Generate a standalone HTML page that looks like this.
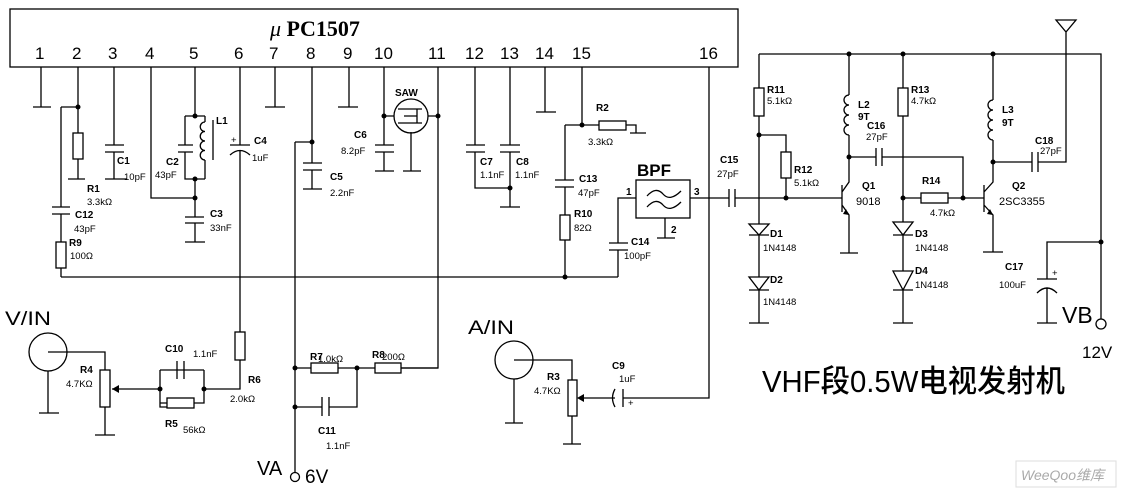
<!DOCTYPE html>
<html><head><meta charset="utf-8"><style>
html,body{margin:0;padding:0;background:#fff}
svg{display:block}
text{font-family:"Liberation Sans","Noto Sans CJK SC",sans-serif;fill:#000}
.b{font-weight:bold;font-size:10px}
.v{font-size:9.5px}
</style></head><body>
<svg width="1127" height="493" viewBox="0 0 1127 493" xmlns="http://www.w3.org/2000/svg">
<g stroke="#000" stroke-width="1.3" fill="none">
<rect x="10" y="9" width="728" height="58"/>
<path d="M41 67V107M33 107H51"/>
<path d="M78 67V107M61 107H78M78 107V133M78 159V179M68 179H85"/>
<rect x="73" y="133" width="10" height="26"/>
<path d="M61 107V207M52 207H70M52 214H70M61 214V242M61 268V277"/>
<rect x="56" y="242" width="10" height="26"/>
<path d="M61 277H618"/>
<path d="M114 67V145M105 145H124M105 152H124M114 152V179M105 179H127"/>
<path d="M151 67V198H195"/>
<path d="M195 67V116M185 116H205M185 116V145M178 145H193M178 152H193M185 152V179H205M205 116V122M205 160V179M195 179V217M185 217H204M185 223H204M195 223V242M185 242H205"/>
<path d="M205 122a4.7 4.7 0 0 0 0 9.5a4.7 4.7 0 0 0 0 9.5a4.7 4.7 0 0 0 0 9.5a4.7 4.7 0 0 0 0 9.5"/>
<path d="M213 120V160"/>
<path d="M240 67V145M230 145H250M230 155Q240 146 250 155M240 150V332M240 360V389H204"/>
<rect x="235" y="332" width="10" height="28"/>
<path d="M275 67V107M265 107H285"/>
<path d="M312 67V163M295 142H312M303 163H322M303 170H322M312 170V189M303 189H322M295 142V477"/>
<path d="M349 67V107M338 107H358"/>
<path d="M384 67V145M375 145H394M375 152H394M384 152V171M375 171H394M384 116H394M428 116H438M411 132V171M403 171H421"/>
<circle cx="411" cy="116" r="17"/>
<path d="M398 109H422M398 123H422M404 116H417M417 109V123"/>
<path d="M438 67V368H401"/>
<path d="M475 67V145M466 145H485M466 152H485M475 152V188H510M510 67V145M500 145H520M500 152H520M510 152V207M500 207H520"/>
<path d="M545 67V112M536 112H556"/>
<path d="M582 67V125M565 125H599M626 125H636V133M630 133H646"/>
<rect x="599" y="121" width="27" height="9"/>
<path d="M565 125V180M555 180H574M555 187H574M565 187V215M565 240V277"/>
<rect x="560" y="215" width="10" height="25"/>
<path d="M618 277V250M609 250H628M609 243H628M618 243V198H636"/>
<rect x="636" y="180" width="54" height="38"/>
<path d="M647 196Q656 186 663 194T681 191M647 207Q656 197 663 205T681 202"/>
<path d="M665 218V238M657 238H675"/>
<path d="M690 198H729M729 189V207M735 189V207M735 198H842"/>
<path d="M709 67V398H623M623 389V407M615 389Q610 398 615 407M615 398H580"/>
<path d="M759 54H1101V323M759 54V88M759 116V224M759 135H786V152M786 178V198"/>
<rect x="754" y="88" width="10" height="28"/>
<rect x="781" y="152" width="10" height="26"/>
<path d="M749 224H769L759 235Z M749 235H769M759 235V277M749 277H769L759 290Z M749 290H769M759 290V323M749 323H769"/>
<path d="M842 185V212M842 192L849 182V135M849 54V95M842 205L849 215V253M840 253H858"/>
<path d="M849 95a4.5 4.5 0 0 0 0 10a4.5 4.5 0 0 0 0 10a4.5 4.5 0 0 0 0 10a4.5 4.5 0 0 0 0 10"/>
<path d="M849 157H876M876 148V166M882 148V166M882 157H963V198"/>
<path d="M903 54V88M903 116V222M903 198H921M948 198H984M893 222H913L903 235Z M893 235H913M903 235V271M893 271H913L903 290Z M893 290H913M903 290V323M893 323H913"/>
<rect x="898" y="88" width="10" height="28"/>
<rect x="921" y="193" width="27" height="10"/>
<path d="M984 185V212M984 192L993 182V140M993 54V100M984 205L993 215V252M983 252H1003"/>
<path d="M993 100a5 5 0 0 0 0 10a5 5 0 0 0 0 10a5 5 0 0 0 0 10a5 5 0 0 0 0 10"/>
<path d="M993 162H1032M1032 152V172M1038 152V172M1038 162H1066V32M1056 20H1076L1066 32Z"/>
<path d="M1101 242H1047V279M1037 279H1057M1037 293Q1047 283 1057 293M1047 288V323M1037 323H1057"/>
<circle cx="48" cy="352" r="19"/>
<path d="M48 352H105V370M48 371V413M39 413H59M105 407V435M95 435H115"/>
<rect x="100" y="370" width="10" height="37"/>
<path d="M112 389H160M160 370H204M160 370V407H167M194 403H204V370M177 361V379M184 361V379M160 403H167"/>
<rect x="167" y="398" width="27" height="10"/>
<path d="M295 368H311M338 368H375M401 368H438M357 368V407H329M322 407H295M322 397V416M329 397V416"/>
<rect x="311" y="363" width="27" height="10"/>
<rect x="375" y="363" width="26" height="10"/>
<circle cx="514" cy="360" r="19"/>
<path d="M514 360H572V380M514 379V423M505 423H523M572 416V444M563 444H581"/>
<rect x="568" y="380" width="9" height="36"/>
<circle cx="295" cy="477" r="4.5" fill="#fff"/>
<circle cx="1101" cy="324" r="5" fill="#fff"/>
</g>
<g fill="#000">
<path d="M112 389l7-4v8z M577 398l7-4v8z M849 215l-6-1 3-5z M993 215l-6-1 3-5z"/>
<circle cx="78" cy="107" r="2.5"/><circle cx="195" cy="116" r="2.5"/><circle cx="195" cy="179" r="2.5"/><circle cx="195" cy="198" r="2.5"/>
<circle cx="312" cy="142" r="2.5"/><circle cx="384" cy="116" r="2.5"/><circle cx="438" cy="116" r="2.5"/><circle cx="510" cy="188" r="2.5"/>
<circle cx="582" cy="125" r="2.5"/><circle cx="565" cy="277" r="2.5"/><circle cx="759" cy="135" r="2.5"/><circle cx="786" cy="198" r="2.5"/>
<circle cx="849" cy="54" r="2.5"/><circle cx="903" cy="54" r="2.5"/><circle cx="993" cy="54" r="2.5"/><circle cx="849" cy="157" r="2.5"/>
<circle cx="903" cy="198" r="2.5"/><circle cx="963" cy="198" r="2.5"/><circle cx="993" cy="162" r="2.5"/><circle cx="1101" cy="242" r="2.5"/>
<circle cx="160" cy="389" r="2.5"/><circle cx="204" cy="389" r="2.5"/><circle cx="295" cy="368" r="2.5"/><circle cx="295" cy="407" r="2.5"/><circle cx="357" cy="368" r="2.5"/>
</g>
<text x="270" y="36" style="font-family:'Liberation Serif',serif;font-size:22px;font-weight:bold"><tspan font-style="italic" font-weight="normal">μ</tspan> PC1507</text>
<g font-size="17">
<text x="35" y="59">1</text><text x="72" y="59">2</text><text x="108" y="59">3</text><text x="145" y="59">4</text><text x="189" y="59">5</text><text x="234" y="59">6</text><text x="269" y="59">7</text><text x="306" y="59">8</text><text x="343" y="59">9</text><text x="374" y="59">10</text><text x="428" y="59">11</text><text x="465" y="59">12</text><text x="500" y="59">13</text><text x="535" y="59">14</text><text x="572" y="59">15</text><text x="699" y="59">16</text>
</g>
<text class="b" x="117" y="164">C1</text><text class="v" x="124" y="180">10pF</text>
<text class="b" x="87" y="192">R1</text><text class="v" x="87" y="205">3.3kΩ</text>
<text class="b" x="75" y="218">C12</text><text class="v" x="74" y="232">43pF</text>
<text class="b" x="69" y="246">R9</text><text class="v" x="70" y="259">100Ω</text>
<text class="b" x="166" y="165">C2</text><text class="v" x="155" y="178">43pF</text>
<text class="b" x="216" y="124">L1</text>
<text class="v" x="231" y="143">+</text><text class="b" x="254" y="144">C4</text><text class="v" x="252" y="161">1uF</text>
<text class="b" x="210" y="217">C3</text><text class="v" x="210" y="231">33nF</text>
<text class="b" x="330" y="180">C5</text><text class="v" x="330" y="196">2.2nF</text>
<text class="b" x="354" y="138">C6</text><text class="v" x="341" y="154">8.2pF</text>
<text class="b" x="395" y="96" font-size="13px">SAW</text>
<text class="b" x="480" y="165">C7</text><text class="v" x="480" y="178">1.1nF</text>
<text class="b" x="516" y="165">C8</text><text class="v" x="515" y="178">1.1nF</text>
<text class="b" x="596" y="111">R2</text><text class="v" x="588" y="145">3.3kΩ</text>
<text class="b" x="579" y="182">C13</text><text class="v" x="578" y="196">47pF</text>
<text class="b" x="574" y="217">R10</text><text class="v" x="574" y="231">82Ω</text>
<text class="b" x="631" y="245">C14</text><text class="v" x="624" y="259">100pF</text>
<text x="637" y="176" font-size="17" font-weight="bold">BPF</text>
<text class="b" x="626" y="195">1</text><text class="b" x="694" y="195">3</text><text class="b" x="671" y="233">2</text>
<text class="b" x="720" y="163">C15</text><text class="v" x="717" y="177">27pF</text>
<text class="b" x="767" y="93">R11</text><text class="v" x="767" y="104">5.1kΩ</text>
<text class="b" x="794" y="173">R12</text><text class="v" x="794" y="186">5.1kΩ</text>
<text class="b" x="770" y="237">D1</text><text class="v" x="763" y="251">1N4148</text>
<text class="b" x="770" y="283">D2</text><text class="v" x="763" y="305">1N4148</text>
<text class="b" x="858" y="108">L2</text><text class="b" x="858" y="120">9T</text>
<text class="b" x="867" y="129">C16</text><text class="v" x="866" y="140">27pF</text>
<text class="b" x="862" y="189">Q1</text><text x="856" y="205" font-size="11">9018</text>
<text class="b" x="911" y="93">R13</text><text class="v" x="911" y="104">4.7kΩ</text>
<text class="b" x="922" y="184">R14</text><text class="v" x="930" y="216">4.7kΩ</text>
<text class="b" x="915" y="237">D3</text><text class="v" x="915" y="251">1N4148</text>
<text class="b" x="915" y="274">D4</text><text class="v" x="915" y="288">1N4148</text>
<text class="b" x="1002" y="113">L3</text><text class="b" x="1002" y="126">9T</text>
<text class="b" x="1035" y="144">C18</text><text class="v" x="1040" y="154">27pF</text>
<text class="b" x="1012" y="189">Q2</text><text x="999" y="205" font-size="11">2SC3355</text>
<text class="b" x="1005" y="270">C17</text><text class="v" x="999" y="288">100uF</text><text class="v" x="1052" y="276">+</text>
<text x="1062" y="323" font-size="23">VB</text>
<text x="1082" y="358" font-size="17">12V</text>
<text x="762" y="392" font-size="31" font-weight="500" textLength="303" lengthAdjust="spacingAndGlyphs">VHF段0.5W电视发射机</text>
<text x="5" y="325" font-size="19" textLength="46" lengthAdjust="spacingAndGlyphs">V/IN</text>
<text class="b" x="80" y="373">R4</text><text class="v" x="66" y="387">4.7KΩ</text>
<text class="b" x="165" y="352">C10</text><text class="v" x="193" y="357">1.1nF</text>
<text class="b" x="165" y="427">R5</text><text class="v" x="183" y="433">56kΩ</text>
<text class="b" x="248" y="383">R6</text><text class="v" x="230" y="402">2.0kΩ</text>
<text class="b" x="310" y="360">R7</text><text class="v" x="318" y="362">1.0kΩ</text>
<text class="b" x="372" y="358">R8</text><text class="v" x="382" y="360">200Ω</text>
<text class="b" x="318" y="434">C11</text><text class="v" x="326" y="449">1.1nF</text>
<text x="257" y="475" font-size="20">VA</text><text x="305" y="483" font-size="19">6V</text>
<text x="468" y="334" font-size="19" textLength="46" lengthAdjust="spacingAndGlyphs">A/IN</text>
<text class="b" x="547" y="380">R3</text><text class="v" x="534" y="394">4.7KΩ</text>
<text class="b" x="612" y="369">C9</text><text class="v" x="619" y="382">1uF</text><text class="v" x="628" y="406">+</text>
<rect x="1016" y="461" width="100" height="26" fill="none" stroke="#ddd"/>
<text x="1021" y="480" font-size="14" style="fill:#aaa;font-style:italic">WeeQoo维库</text>
</svg>
</body></html>
